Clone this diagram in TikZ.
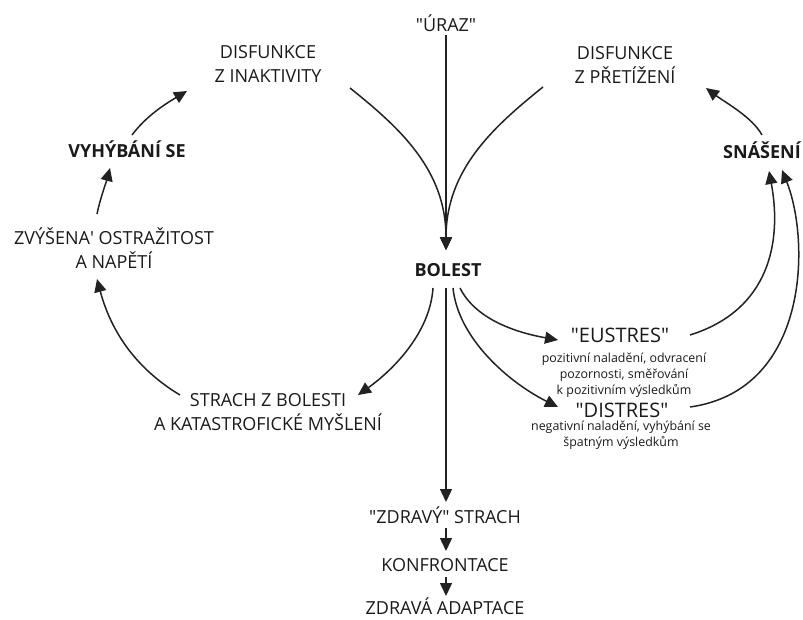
\documentclass[tikz,border=0pt]{standalone}
\usepackage{fontspec}
\setmainfont{Open Sans}
\usetikzlibrary{arrows.meta}
\definecolor{ink}{HTML}{1A1A1A}
\definecolor{wire}{HTML}{222222}
\newcommand{\dq}{\textquotedbl}
\tikzset{
  lbl/.style={anchor=base, align=center, inner sep=0pt, text=ink,
    font=\fontsize{18}{24}\selectfont},
  keylbl/.style={lbl, font=\fontsize{18}{24}\selectfont\bfseries},
  stresslbl/.style={lbl, font=\fontsize{20}{24}\selectfont},
  desc/.style={lbl, font=\fontsize{12.4}{16}\selectfont},
  link/.style={draw=wire, line width=1.5pt,
    -{Triangle[length=13pt,width=12pt]}}
}
\begin{document}
\begin{tikzpicture}[x=1pt, y=-1pt]
\useasboundingbox (0,0) rectangle (803,619);

% labels (each placed by the baseline of its last line)
\node[lbl]       (uraz)    at (446,31)  {\dq ÚRAZ\dq};
\node[lbl]       (inakt)   at (268,82)  {DISFUNKCE\\Z INAKTIVITY};
\node[lbl]       (pretiz)  at (625,83)  {DISFUNKCE\\Z PŘETÍŽENÍ};
\node[keylbl]    (vyhyb)   at (127,157) {VYHÝBÁNÍ SE};
\node[keylbl]    (snas)    at (762,158) {SNÁŠENÍ};
\node[lbl]       (zvys)    at (114,268) {ZVÝŠENA\textquotesingle{} OSTRAŽITOST\\A NAPĚTÍ};
\node[keylbl]    (bolest)  at (448,276) {BOLEST};
\node[lbl]       (strach)  at (268,430) {STRACH Z BOLESTI\\A KATASTROFICKÉ MYŠLENÍ};
\node[stresslbl] (eustres) at (620,342) {\dq EUSTRES\dq};
\node[desc]      (eudesc)  at (624,394) {pozitivní naladění, odvracení\\pozornosti, směřování\\k pozitivním výsledkům};
\node[stresslbl] (distres) at (622,417) {\dq DISTRES\dq};
\node[desc]      (didesc)  at (621,446) {negativní naladění, vyhýbání se\\špatným výsledkům};
\node[lbl]       (zdravy)  at (445,523) {\dq ZDRAVÝ\dq{} STRACH};
\node[lbl]       (konfr)   at (445,571) {KONFRONTACE};
\node[lbl]       (adapt)   at (445,614) {ZDRAVÁ ADAPTACE};

% converging inputs into pain
\path[link] ([shift={(0,4)}]uraz.base) -- ([shift={(-2,-26)}]bolest.base);
\path[link] ([shift={(82,6)}]inakt.base)
  .. controls +(50,40) and +(0,-80) .. ([shift={(-2,-26)}]bolest.base);
\path[link] ([shift={(-82,4)}]pretiz.base)
  .. controls +(-50,40) and +(0,-80) .. ([shift={(-2,-26)}]bolest.base);

% left loop
\path[link] ([shift={(-15,12)}]bolest.base)
  .. controls +(-3,45) and +(35,-25) .. ([shift={(90,-35)}]strach.base);
\path[link] ([shift={(-88,-35)}]strach.base)
  .. controls +(-50,-30) and +(12,45) .. ([shift={(-17,11)}]zvys.base);
\path[link] ([shift={(-17,-54)}]zvys.base)
  .. controls +(3,-15) and +(-4,15) .. ([shift={(-17,11)}]vyhyb.base);
\path[link] ([shift={(5,-22)}]vyhyb.base)
  .. controls +(15,-20) and +(-20,12) .. ([shift={(-81,9)}]inakt.base);

% right loop
\path[link] ([shift={(12,12)}]bolest.base)
  .. controls +(15,30) and +(-45,-8) .. ([shift={(-62,-2)}]eustres.base);
\path[link] ([shift={(5,12)}]bolest.base)
  .. controls +(5,50) and +(-50,-25) .. ([shift={(-64,-10)}]distres.base);
\path[link] ([shift={(70,-7)}]eustres.base)
  .. controls +(80,-25) and +(13,70) .. ([shift={(7,13)}]snas.base);
\path[link] ([shift={(68,-10)}]distres.base)
  .. controls +(120,-17) and +(28,70) .. ([shift={(20,12)}]snas.base);
\path[link] ([shift={(0,-23)}]snas.base)
  .. controls +(-10,-18) and +(20,15) .. ([shift={(81,5)}]pretiz.base);

% healthy path
\path[link] ([shift={(-2,12)}]bolest.base) -- ([shift={(1,-21)}]zdravy.base);
\path[link] ([shift={(1,5)}]zdravy.base) -- ([shift={(1,-20)}]konfr.base);
\path[link] ([shift={(1,6)}]konfr.base) -- ([shift={(1,-18)}]adapt.base);
\end{tikzpicture}
\end{document}
